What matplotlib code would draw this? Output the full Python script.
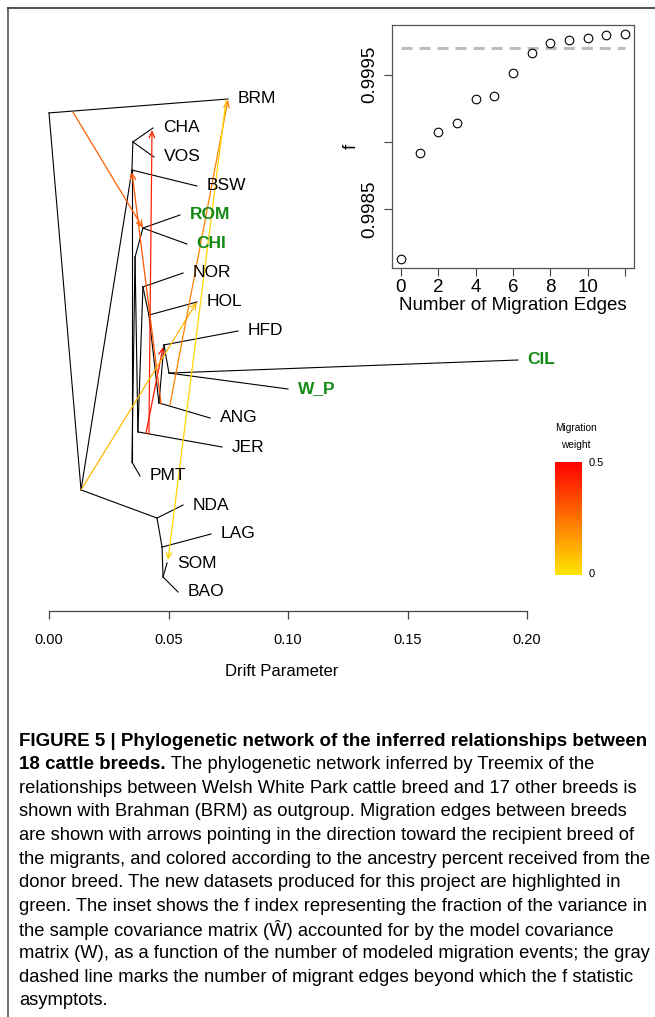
import numpy as np
import matplotlib
matplotlib.use('Agg')
import matplotlib.pyplot as plt
from matplotlib.colors import LinearSegmentedColormap
from matplotlib.lines import Line2D

plt.rcParams['font.family'] = ['Liberation Sans', 'DejaVu Sans']

W, H = 655, 1017

# ---- tree data (drift from root, row = position of tip from the top) ----
tips = ['BRM', 'CHA', 'VOS', 'BSW', 'ROM', 'CHI', 'NOR', 'HOL', 'HFD',
        'CIL', 'W_P', 'ANG', 'JER', 'PMT', 'NDA', 'LAG', 'SOM', 'BAO']
tip_drift = [0.0749, 0.0435, 0.0439, 0.0619, 0.0548, 0.0577, 0.0561, 0.0619, 0.0791,
             0.1962, 0.1000, 0.0674, 0.0724, 0.0381, 0.0561, 0.0678, 0.0494, 0.0540]
new_breeds = ['ROM', 'CHI', 'CIL', 'W_P']

nodes = ['root', 'n1', 'n2', 'n3', 'n4', 'n5', 'n6', 'n7', 'n8',
         'n9', 'n10', 'n11', 'n12', 'n13', 'n14', 'n15']
node_drift = [0.0, 0.0134, 0.0347, 0.0351, 0.0347, 0.0360, 0.0393, 0.0372, 0.0393,
              0.0418, 0.0460, 0.0481, 0.0502, 0.0452, 0.0473, 0.0477]
node_row = [0.48, 13.48, 2.45, 1.48, 12.52, 5.45, 4.45, 11.48, 6.48,
            7.45, 10.48, 8.48, 9.45, 14.45, 15.45, 16.48]

edges = [('root', 'BRM'), ('root', 'n1'), ('n1', 'n2'), ('n2', 'n3'), ('n3', 'CHA'),
         ('n3', 'VOS'), ('n2', 'BSW'), ('n2', 'n4'), ('n4', 'PMT'), ('n4', 'n5'),
         ('n5', 'n6'), ('n6', 'ROM'), ('n6', 'CHI'), ('n5', 'n7'), ('n7', 'JER'),
         ('n7', 'n8'), ('n8', 'NOR'), ('n8', 'n9'), ('n9', 'HOL'), ('n9', 'n10'),
         ('n10', 'ANG'), ('n10', 'n11'), ('n11', 'HFD'), ('n11', 'n12'),
         ('n12', 'CIL'), ('n12', 'W_P'), ('n1', 'n13'), ('n13', 'NDA'),
         ('n13', 'n14'), ('n14', 'LAG'), ('n14', 'n15'), ('n15', 'SOM'), ('n15', 'BAO')]

# migration edges: start and end on the tree, weight
mig_from_drift = [0.0100, 0.0418, 0.0406, 0.0469, 0.0134, 0.0506, 0.0741]
mig_from_row = [0.45, 11.55, 11.52, 10.52, 13.48, 10.55, 0.03]
mig_to_drift = [0.0393, 0.0431, 0.0477, 0.0347, 0.0619, 0.0749, 0.0498]
mig_to_row = [4.45, 1.07, 8.55, 2.52, 7.0, 0.03, 15.9]
mig_weight = [0.30, 0.42, 0.45, 0.32, 0.10, 0.22, 0.04]

# ---- inset: f statistic vs number of migration edges ----
n_edges = np.arange(13)
f_values = [0.998128, 0.998916, 0.999071, 0.999141, 0.999323, 0.999343, 0.9995125,
            0.999665, 0.999739, 0.999762, 0.999774, 0.999794, 0.999804]
f_asymptote = 0.999702

caption = [
    "relationships between Welsh White Park cattle breed and 17 other breeds is",
    "shown with Brahman (BRM) as outgroup. Migration edges between breeds",
    "are shown with arrows pointing in the direction toward the recipient breed of",
    "the migrants, and colored according to the ancestry percent received from the",
    "donor breed. The new datasets produced for this project are highlighted in",
    "green. The inset shows the f index representing the fraction of the variance in",
    "the sample covariance matrix (\u0174) accounted for by the model covariance",
    "matrix (W), as a function of the number of modeled migration events; the gray",
    "dashed line marks the number of migrant edges beyond which the f statistic",
    "asymptots.",
]


def fx(px):
    return px / W


def fy(py):
    return 1 - py / H


fig = plt.figure(figsize=(W / 100, H / 100), dpi=100)

cmap = LinearSegmentedColormap.from_list('mig', ['#FFE600', '#FF0000'])

# main tree
ax = fig.add_axes([fx(49), fy(592), 478 / W, 493 / H])
ax.set_xlim(0, 0.2)
ax.set_ylim(17, 0)

pos = {}
for name, d in zip(tips, tip_drift):
    pos[name] = (d, tips.index(name))
for name, d, r in zip(nodes, node_drift, node_row):
    pos[name] = (d, r)

for a, b in edges:
    ax.plot([pos[a][0], pos[b][0]], [pos[a][1], pos[b][1]], color='black',
            lw=0.8, clip_on=False)

for i in range(len(mig_weight)):
    ax.annotate('', xy=(mig_to_drift[i], mig_to_row[i]),
                xytext=(mig_from_drift[i], mig_from_row[i]),
                arrowprops=dict(arrowstyle='->,head_length=0.45,head_width=0.2',
                                color=cmap(mig_weight[i] / 0.5), lw=0.9,
                                shrinkA=0, shrinkB=0),
                annotation_clip=False)

for name in tips:
    is_new = name in new_breeds
    ax.annotate(name, pos[name], xytext=(7, 0), textcoords='offset points',
                ha='left', va='center', fontsize=12.5,
                color='#138A13' if is_new else 'black',
                fontweight='bold' if is_new else 'normal',
                annotation_clip=False)

for s in ['top', 'right', 'left']:
    ax.spines[s].set_visible(False)
ax.spines['bottom'].set_position(('outward', 13.7))
ax.spines['bottom'].set_color('#444444')
ax.spines['bottom'].set_linewidth(0.9)
ax.set_yticks([])
ax.set_xticks([0, 0.05, 0.10, 0.15, 0.20])
ax.set_xticklabels(['0.00', '0.05', '0.10', '0.15', '0.20'])
ax.tick_params(axis='x', direction='out', length=5.8, width=0.9, color='#444444',
               pad=10, labelsize=10.5)
ax.patch.set_visible(False)
fig.text(fx(282), fy(672), 'Drift Parameter', ha='center', va='center', fontsize=12)

# colour key
cax = fig.add_axes([fx(555), fy(575), 27 / W, 113 / H])
cax.imshow(np.linspace(0, 1, 256)[:, None], aspect='auto', cmap=cmap, origin='lower')
cax.axis('off')
fig.text(fx(576), fy(428), 'Migration', ha='center', va='center', fontsize=7.3)
fig.text(fx(576), fy(445), 'weight', ha='center', va='center', fontsize=7.3)
fig.text(fx(589), fy(463), '0.5', ha='left', va='center', fontsize=8)
fig.text(fx(589), fy(574), '0', ha='left', va='center', fontsize=8)

# inset
iax = fig.add_axes([fx(392), fy(268), 242 / W, 243 / H])
iax.plot([0, 12], [f_asymptote, f_asymptote], color='#BDBDBD', lw=2.2,
         ls=(0, (3.6, 2.3)))
iax.plot(n_edges, f_values, 'o', mfc='none', mec='black', ms=6.2, mew=0.8)
iax.set_xlim(-0.48, 12.48)
iax.set_ylim(0.998061, 0.999871)
iax.set_xticks(np.arange(0, 13, 2))
iax.set_xticklabels(['0', '2', '4', '6', '8', '10', ''])
iax.set_yticks([0.9985, 0.9990, 0.9995])
iax.set_yticklabels(['0.9985', '', '0.9995'], rotation=90, va='center')
iax.tick_params(direction='out', length=5.8, width=0.8, color='#444444', labelsize=13.5)
iax.tick_params(axis='x', pad=2)
iax.tick_params(axis='y', pad=4)
for s in iax.spines.values():
    s.set_color('#555555')
    s.set_linewidth(0.9)
fig.text(fx(513), fy(306), 'Number of Migration Edges', ha='center', va='center',
         fontsize=13.5)
fig.text(fx(351), fy(146), 'f', ha='center', va='center', fontsize=13.5, rotation=90)

# border
fig.add_artist(Line2D([fx(8), fx(8)], [0, fy(8)], color='#555555', lw=1.2))
fig.add_artist(Line2D([fx(8), 1], [fy(8), fy(8)], color='#333333', lw=1.2))

# caption
y0, dy = 741, 23.6
fig.text(fx(19), fy(y0), 'FIGURE 5 | Phylogenetic network of the inferred relationships between',
         ha='left', va='center', fontsize=13.5, fontweight='bold')
bold2 = fig.text(fx(19), fy(y0 + dy), '18 cattle breeds.', ha='left', va='center',
                 fontsize=13.5, fontweight='bold')
ax.annotate(' The phylogenetic network inferred by Treemix of the', xy=(1, 0),
            xycoords=bold2, ha='left', va='bottom', fontsize=13.2,
            annotation_clip=False)
for k, line in enumerate(caption):
    fig.text(fx(19), fy(y0 + dy * (k + 2)), line, ha='left', va='center', fontsize=13.2)

fig.savefig('out.png', dpi=100)
